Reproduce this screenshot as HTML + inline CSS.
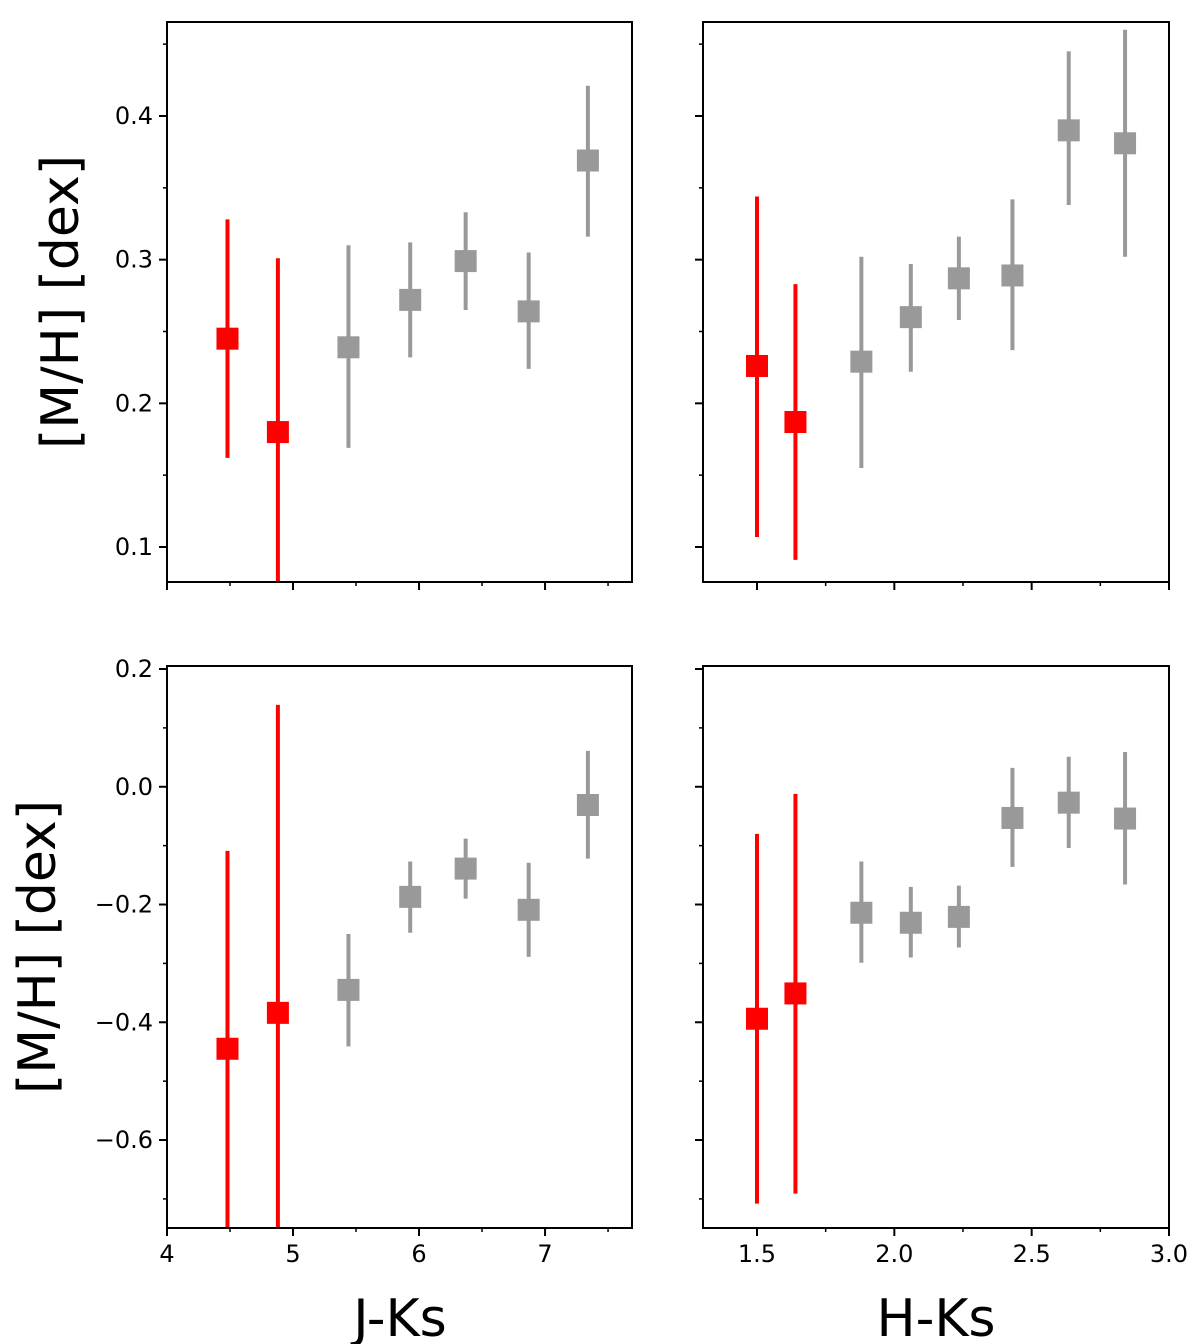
<!DOCTYPE html>
<html><head><meta charset="utf-8"><style>
body{margin:0;background:#fff}
svg{display:block;font-family:"DejaVu Sans","Liberation Sans",sans-serif}
</style></head><body>
<svg id="chart" width="1200" height="1344" viewBox="0 0 1200 1344"></svg>
<script>
const jkX=[4.48,4.88,5.44,5.93,6.37,6.87,7.34];
const jkTopY=[0.245,0.180,0.239,0.272,0.299,0.264,0.369];
const jkTopHi=[0.328,0.301,0.310,0.312,0.333,0.305,0.421];
const jkTopLo=[0.162,0.06,0.169,0.232,0.265,0.224,0.316];
const jkBotY=[-0.445,-0.384,-0.345,-0.187,-0.139,-0.209,-0.031];
const jkBotHi=[-0.109,0.139,-0.250,-0.127,-0.088,-0.129,0.061];
const jkBotLo=[-0.8,-0.8,-0.441,-0.248,-0.190,-0.289,-0.122];
const hkX=[1.50,1.64,1.88,2.06,2.235,2.43,2.635,2.84];
const hkTopY=[0.226,0.187,0.229,0.260,0.287,0.289,0.390,0.381];
const hkTopHi=[0.344,0.283,0.302,0.297,0.316,0.342,0.445,0.460];
const hkTopLo=[0.107,0.091,0.155,0.222,0.258,0.237,0.338,0.302];
const hkBotY=[-0.394,-0.351,-0.214,-0.231,-0.221,-0.053,-0.027,-0.054];
const hkBotHi=[-0.080,-0.012,-0.127,-0.170,-0.168,0.032,0.051,0.059];
const hkBotLo=[-0.708,-0.691,-0.299,-0.290,-0.273,-0.136,-0.104,-0.166];
const redCount=2;
const jkTicks=[4,5,6,7], jkMinor=[4.5,5.5,6.5,7.5];
const hkTicks=[1.5,2.0,2.5,3.0], hkMinor=[1.75,2.25,2.75];
const topTicks=[0.1,0.2,0.3,0.4], topMinor=[0.15,0.25,0.35,0.45];
const botTicks=[0.2,0.0,-0.2,-0.4,-0.6], botMinor=[0.1,-0.1,-0.3,-0.5,-0.7];

const svg=document.getElementById('chart');
const NS='http://www.w3.org/2000/svg';
function el(t,a,p){const e=document.createElementNS(NS,t);for(const k in a)e.setAttribute(k,a[k]);(p||svg).appendChild(e);return e;}
function fmt(v,d){const s=Math.abs(v).toFixed(d);return (v<-1e-9?'\u2212':'')+s;}

function panel(name,px,py,pw,ph,x0,x1,y0,y1,xs,ys,ylo,yhi,xt,xm,yt,ym,xd,yd,showX,showY,clipId){
  const X=v=>px+(v-x0)/(x1-x0)*pw;
  const Y=v=>py+ph-(v-y0)/(y1-y0)*ph;
  const g=el('g',{});
  
  
  const cp=el('clipPath',{id:clipId},g);el('rect',{x:px,y:py,width:pw,height:ph},cp);
  const dg=el('g',{'clip-path':'url(#'+clipId+')'},g);
  for(let i=0;i<xs.length;i++){
    const c=i<redCount?'#ff0000':'#999999';
    const ln=el('line',{x1:X(xs[i]),x2:X(xs[i]),y1:Y(yhi[i]),y2:Y(ylo[i]),stroke:c,'stroke-width':4},dg);
    
    
    const r=el('rect',{x:X(xs[i])-11,y:Y(ys[i])-11,width:22,height:22,fill:c},dg);
    
    
  }
  el('rect',{x:px,y:py,width:pw,height:ph,fill:'none',stroke:'#000','stroke-width':2},g);
  xt.forEach(v=>{const x=X(v);el('line',{x1:x,x2:x,y1:py+ph,y2:py+ph+8,stroke:'#000','stroke-width':2},g);
    if(showX){const t=el('text',{x:x,y:py+ph+34,'text-anchor':'middle','font-size':24},g);t.textContent=xd?v.toFixed(xd):String(v);
      }});
  xm.forEach(v=>{const x=X(v);if(x<=px+pw)el('line',{x1:x,x2:x,y1:py+ph,y2:py+ph+4,stroke:'#000','stroke-width':1.5},g);});
  yt.forEach(v=>{const y=Y(v);el('line',{x1:px,x2:px-8,y1:y,y2:y,stroke:'#000','stroke-width':2},g);
    if(showY){const t=el('text',{x:px-14,y:y+8,'text-anchor':'end','font-size':24},g);t.textContent=fmt(v,yd);
      }});
  ym.forEach(v=>{const y=Y(v);if(y>=py&&y<=py+ph)el('line',{x1:px,x2:px-4,y1:y,y2:y,stroke:'#000','stroke-width':1.5},g);});
}
const tY0=0.1-35/1437, tY1=0.4+94/1437;
const bY0=-0.6-88/589, bY1=0.2+3/589;
panel('panel-jks-top',167,22,465,560,4,7.69,tY0,tY1,jkX,jkTopY,jkTopLo,jkTopHi,jkTicks,jkMinor,topTicks,topMinor,0,1,false,true,'c1');
panel('panel-hks-top',703,22,466,560,1.5-54/274.7,3.0,tY0,tY1,hkX,hkTopY,hkTopLo,hkTopHi,hkTicks,hkMinor,topTicks,topMinor,1,1,false,false,'c2');
panel('panel-jks-bottom',167,666,465,562,4,7.69,bY0,bY1,jkX,jkBotY,jkBotLo,jkBotHi,jkTicks,jkMinor,botTicks,botMinor,0,1,true,true,'c3');
panel('panel-hks-bottom',703,666,466,562,1.5-54/274.7,3.0,bY0,bY1,hkX,hkBotY,hkBotLo,hkBotHi,hkTicks,hkMinor,botTicks,botMinor,1,1,true,false,'c4');

function label(txt,x,y,rot,name){const t=el('text',{x:x,y:y,'text-anchor':'middle','font-size':52});
  if(rot)t.setAttribute('transform','rotate(-90 '+x+' '+y+')');t.textContent=txt;
  }
label('[M/H] [dex]',78,302,true,'y-axis-title-top');
label('[M/H] [dex]',55,947,true,'y-axis-title-bottom');
label('J-Ks',400,1336,false,'x-axis-title-jks');
label('H-Ks',936,1336,false,'x-axis-title-hks');
</script>
</body></html>
